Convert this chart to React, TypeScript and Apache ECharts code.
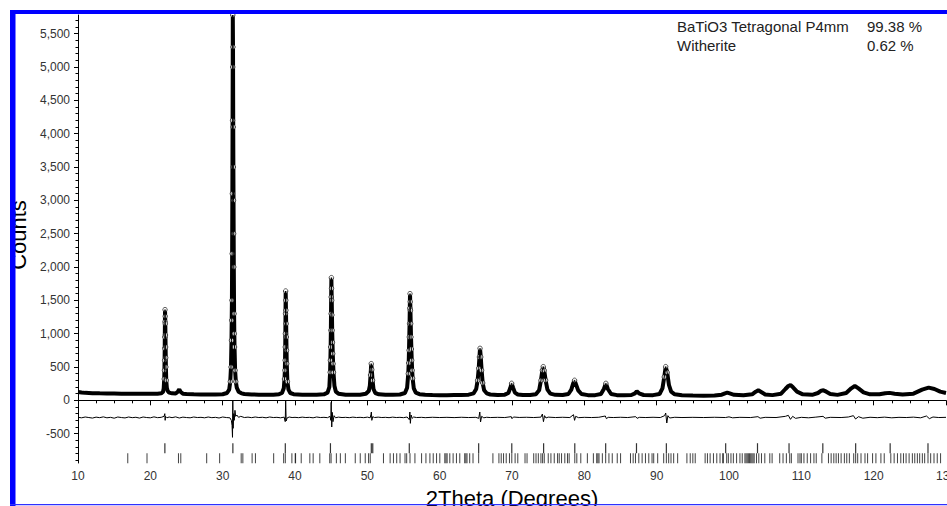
import React, { useEffect, useRef } from "react";
import * as echarts from "echarts";

const FONT = "'Liberation Sans', Arial, sans-serif";

// Observed intensity (2θ, counts)
const observed: number[][] = [
  [10, 125], [10.5, 118], [11, 112], [12, 108], [13, 105], [14, 103], [15, 102], [16, 100], [17, 98], [18, 97], [19, 97], [20, 98], [21, 100], [21.5, 105],
  [21.75, 125], [21.85, 180], [21.92, 320], [21.95, 450], [21.97, 600], [21.99, 780], [22.0, 950], [22.02, 1180], [22.03, 1360], [22.05, 1260], [22.07, 1150], [22.09, 980], [22.11, 800],
  [22.13, 640], [22.15, 500], [22.2, 300], [22.28, 190], [22.4, 140], [22.6, 115],
  [23, 105], [23.5, 102], [23.8, 130], [24.0, 165], [24.2, 125], [24.5, 100], [25, 95], [26, 90], [27, 88], [28, 87], [29, 88], [30, 92], [30.6, 110],
  [30.9, 160], [31.05, 280], [31.15, 500], [31.22, 900], [31.25, 1200], [31.28, 1500], [31.31, 2200], [31.34, 3100], [31.37, 4200], [31.39, 5000], [31.4, 5780], [31.43, 5300],
  [31.46, 4100], [31.48, 3500], [31.5, 3000], [31.52, 2500],
  [31.54, 2000], [31.58, 1300], [31.61, 1000], [31.64, 800], [31.72, 450], [31.82, 280], [31.95, 190], [32.2, 130], [32.6, 105], [33, 95], [34, 88], [35, 85], [36, 84], [37, 85], [37.8, 92],
  [38.2, 110], [38.45, 180], [38.55, 320], [38.6, 450], [38.62, 600], [38.65, 800], [38.67, 1000], [38.69, 1300], [38.71, 1640], [38.73, 1500], [38.75, 1350], [38.78, 1150], [38.8, 950],
  [38.83, 750], [38.86, 550], [38.95, 280], [39.1, 160], [39.35, 110], [39.8, 92],
  [41, 85], [42, 82], [43, 83], [44, 90], [44.5, 115], [44.75, 200], [44.85, 420], [44.89, 600], [44.93, 800], [44.96, 1050], [44.98, 1300], [45.0, 1550], [45.03, 1840], [45.05, 1680],
  [45.08, 1500], [45.11, 1280], [45.14, 1050], [45.18, 870], [45.22, 700], [45.27, 550], [45.32, 420],
  [45.45, 220], [45.65, 130], [46, 100], [47, 85], [48, 82], [49, 84], [49.8, 98], [50.2, 140], [50.35, 220], [50.45, 380], [50.54, 550], [50.62, 460], [50.72, 300], [50.85, 170],
  [51.1, 110], [51.6, 90], [52.5, 82], [53.5, 82], [54.5, 88], [55.2, 110], [55.5, 190], [55.66, 400], [55.72, 560], [55.76, 750], [55.8, 950], [55.84, 1150], [55.87, 1380],
  [55.9, 1600], [55.93, 1480], [55.96, 1350], [56.0, 1150], [56.04, 950], [56.09, 770],
  [56.14, 600], [56.2, 450], [56.26, 330], [56.42, 180], [56.7, 115], [57.2, 92], [58, 84], [59, 80], [60, 78], [61, 78], [62, 79], [63, 80], [64, 85], [64.7, 105], [65.05, 170], [65.25, 300],
  [65.4, 480], [65.5, 650], [65.58, 780], [65.68, 650], [65.8, 450], [65.95, 260], [66.15, 150], [66.5, 105], [67, 88], [68, 80], [69, 85], [69.5, 110], [69.75, 180], [69.95, 255],
  [70.15, 190], [70.4, 115], [70.8, 88], [71.5, 80], [72.5, 80], [73.3, 92], [73.75, 150], [74.0, 300], [74.2, 450], [74.32, 505], [74.45, 450], [74.65, 300], [74.9, 160], [75.3, 100],
  [76, 82], [77, 80], [77.8, 95], [78.2, 160], [78.45, 250], [78.65, 300], [78.85, 240], [79.15, 150], [79.6, 95], [80.5, 78], [81.5, 78], [82.3, 95], [82.7, 170], [82.98, 255],
  [83.25, 170], [83.7, 95], [84.5, 78], [85.5, 75], [86.5, 80], [87.0, 105], [87.25, 135], [87.55, 105], [88.2, 80], [89.5, 78], [90.4, 95], [90.8, 180], [91.05, 350], [91.25, 505],
  [91.45, 420], [91.7, 230], [92.0, 130], [92.5, 90], [93.5, 76], [95, 72], [96.5, 70], [98, 72], [99, 85], [99.45, 105], [99.75, 115], [100.1, 103], [100.7, 82], [102, 75],
  [103.2, 90], [103.7, 130], [104.05, 150], [104.45, 125], [105, 88], [106, 78], [107.2, 100], [107.8, 170], [108.2, 215], [108.5, 230], [108.85, 195], [109.4, 130], [110.2, 90],
  [111.5, 82], [112.3, 110], [112.75, 145], [113.05, 150], [113.45, 130], [114, 95], [115, 82], [116.2, 110], [116.9, 180], [117.4, 215], [117.9, 180], [118.6, 120], [119.5, 90],
  [120.8, 90], [121.6, 105], [122.2, 112], [122.9, 100], [124, 88], [125.5, 100], [126.7, 160], [127.6, 190], [128.4, 170], [129.2, 130], [130, 110],
];

// Difference curve (obs - calc, offset)
const difference: number[][] = [
  [10, -255], [10.5, -262], [11, -250], [11.5, -258], [12, -266], [12.5, -252], [13, -260], [13.5, -248], [14, -262], [14.5, -255], [15, -268], [15.5, -250], [16, -258], [16.5, -264],
  [17, -250], [17.5, -260], [18, -254], [18.5, -266], [19, -250], [19.5, -258], [20, -262], [20.5, -248], [21, -260], [21.5, -255], [21.9, -240], [22.0, -200], [22.05, -300],
  [22.1, -240], [22.3, -262], [22.6, -250], [23, -260], [23.5, -248], [24, -265], [24.5, -252], [25, -258], [25.5, -262], [26, -250], [26.5, -258], [27, -255], [27.5, -262],
  [28, -250], [28.5, -260], [29, -255], [29.5, -265], [30, -250], [30.5, -258], [31.0, -262], [31.2, -300], [31.3, -380], [31.36, -555], [31.4, -10], [31.45, -420], [31.52, -200],
  [31.6, -300], [31.7, -150], [31.8, -240], [31.95, -220], [32.2, -255], [32.5, -240], [33, -258], [33.5, -252], [34, -260], [34.5, -250], [35, -258], [35.5, -254], [36, -262],
  [36.5, -250], [37, -258], [37.5, -255], [38, -262], [38.5, -252], [38.65, -320], [38.71, -5], [38.78, -310], [38.9, -265], [39.2, -250], [39.6, -258], [40, -255], [40.5, -260],
  [41, -252], [41.5, -258], [42, -255], [42.5, -262], [43, -250], [43.5, -258], [44, -255], [44.5, -260], [44.85, -240], [44.95, -300], [45.0, -30], [45.08, -400], [45.15, -180],
  [45.25, -320], [45.4, -230], [45.6, -262], [46, -252], [46.5, -258], [47, -255], [47.5, -260], [48, -252], [48.5, -258], [49, -255], [49.5, -260], [50, -252], [50.4, -262],
  [50.5, -210], [50.56, -175], [50.62, -300], [50.75, -245], [51, -258], [51.5, -252], [52, -258], [52.5, -255], [53, -260], [53.5, -252], [54, -258], [54.5, -255], [55, -260],
  [55.5, -250], [55.8, -290], [55.88, -175], [55.95, -345], [56.05, -220], [56.2, -270], [56.4, -250], [56.8, -258], [57.5, -255], [58, -260], [59, -254], [60, -258], [61, -255],
  [62, -259], [63, -254], [64, -258], [65, -255], [65.4, -270], [65.55, -175], [65.65, -325], [65.8, -240], [66.1, -262], [66.5, -254], [67, -258], [68, -255], [69, -258],
  [69.9, -245], [70.0, -275], [70.2, -250], [71, -257], [72, -254], [73, -258], [74, -252], [74.2, -205], [74.35, -320], [74.5, -230], [74.7, -265], [75, -252], [76, -258],
  [77, -254], [78, -258], [78.5, -215], [78.65, -300], [78.8, -240], [79.2, -260], [80, -255], [81, -258], [82, -254], [82.9, -235], [83.05, -275], [83.3, -255], [84, -258],
  [85, -254], [86, -258], [87.1, -245], [87.3, -270], [87.6, -255], [88.5, -258], [89.5, -254], [90.5, -258], [91.1, -230], [91.25, -190], [91.4, -340], [91.55, -230], [91.8, -265],
  [92.5, -254], [93.5, -258], [95, -255], [96.5, -258], [98, -254], [99.5, -258], [100, -248], [100.5, -262], [101.5, -255], [103, -258], [104, -245], [104.3, -268], [105, -255],
  [106.5, -258], [107.8, -240], [108.2, -225], [108.5, -285], [108.8, -240], [109.2, -270], [110, -255], [111, -262], [112, -252], [113, -240], [113.3, -268], [114, -255],
  [115.5, -258], [116.5, -250], [117.2, -230], [117.5, -280], [117.9, -245], [118.5, -268], [119.5, -254], [120.5, -260], [121.5, -252], [122.5, -262], [123.5, -255], [124.5, -258],
  [125.5, -252], [126.5, -262], [127.3, -235], [127.7, -275], [128.2, -250], [129, -258], [130, -255],
];

// Reflection positions (2θ) of each phase
const batio3Ticks: number[] = [
  22.01, 31.41, 38.66, 44.9, 50.55, 50.75, 55.8, 65.39, 69.97, 74.37, 78.68, 82.95, 87.21, 91.34, 99.54, 103.94, 108.3, 112.97, 117.51, 122.28, 127.51,
];
const witheriteTicks: number[] = [
  16.88, 19.54, 23.89, 24.21, 27.79, 29.58, 32.56, 32.79, 34.07, 34.53, 37.05, 38.43, 38.66, 39.57, 40.03,
  40.08, 40.86, 42.05, 42.51, 43.43, 44.8, 44.99, 45.72, 46.27, 46.96, 48.33, 49.02, 49.71, 50.17, 50.4, 52.23, 53.15, 53.61, 54.06, 54.52,
  55.21, 55.44, 55.9, 56.58, 57.5, 58.1, 58.65, 59.11, 59.57, 60.02, 60.71, 60.87, 61.03, 61.4, 61.86, 62.32, 62.78, 63.46, 63.62, 63.78, 64.15,
  64.61, 65.39, 67.36, 68.19, 68.51, 68.83, 69.2, 69.65, 69.97, 70.43, 70.8, 71.8, 72.08, 73.0, 73.32, 73.64, 74.0, 74.23, 74.46, 75.01,
  75.38, 75.84, 76.3, 76.53, 76.85, 77.3, 77.67, 77.9, 78.68, 78.96, 79.51, 80.42, 81.25, 81.71, 81.87, 82.03, 82.49, 82.95, 83.4, 83.86,
  84.55, 85.01, 86.38, 86.75, 87.07, 87.53, 87.99, 88.45, 88.91, 89.36, 89.59, 90.14, 90.97, 91.34, 91.66, 91.98, 92.35, 92.9, 94.18,
  94.64, 95.0, 95.33, 96.7, 97.02, 97.39, 97.85, 98.31, 98.76, 99.13, 99.22, 99.68, 99.91, 100.27, 100.6, 101.05, 101.51, 101.83, 102.2,
  102.36, 102.52, 102.68, 102.84, 103.0, 103.16, 103.32, 103.48, 103.8, 104.12, 104.49, 104.95, 105.64, 105.96, 107.01, 107.47, 107.93,
  108.39, 108.62, 109.54, 109.81, 110.0, 110.36, 110.82, 111.28, 111.74, 112.06, 112.84, 113.75, 114.12, 114.49, 114.81, 115.13, 115.5,
  115.95, 116.28, 116.64, 117.24, 117.51, 117.79, 118.25, 118.8, 119.16, 119.85, 120.31, 121.0, 121.46, 122.37, 122.83, 123.29, 123.75,
  124.12, 124.48, 124.9, 125.35, 125.68, 126.04, 126.36, 126.73, 127.05, 127.51, 127.88, 128.34, 128.79, 129.25,
];

// Axis ticks
const yMajorTicks: number[] = [-500, 0, 500, 1000, 1500, 2000, 2500, 3000, 3500, 4000, 4500, 5000, 5500];
const yMinorTicks: number[] = [
  -900, -800, -700, -600, -400, -300, -200, -100, 100, 200, 300, 400, 600, 700, 800, 900, 1100, 1200, 1300, 1400, 1600, 1700, 1800, 1900,
  2100, 2200, 2300, 2400, 2600, 2700, 2800, 2900, 3100, 3200, 3300, 3400, 3600, 3700, 3800, 3900, 4100, 4200, 4300, 4400, 4600, 4700, 4800, 4900,
  5100, 5200, 5300, 5400, 5600, 5700,
];

// Phase legend
const phaseNames: string[] = ["BaTiO3 Tetragonal P4mm", "Witherite"];
const phaseWeights: string[] = ["99.38 %", "0.62 %"];

const TICK_ROW_BATIO3 = -718;
const TICK_ROW_WITHERITE = -868;

export default function App() {
  const ref = useRef<HTMLDivElement>(null);
  useEffect(() => {
    if (!ref.current) return;
    const chart = echarts.init(ref.current, null, { renderer: "svg", width: 947, height: 506 });
    const circles = observed.filter((p) => p[1] > 250);
    const legendGraphics: any[] = [];
    phaseNames.forEach((n, i) => {
      legendGraphics.push({
        type: "text", x: 677, y: 26 + i * 19, z: 20,
        style: { text: n, fontSize: 15, fontFamily: FONT, fill: "#222", textVerticalAlign: "middle" },
      });
      legendGraphics.push({
        type: "text", x: 867, y: 26 + i * 19, z: 20,
        style: { text: phaseWeights[i], fontSize: 15, fontFamily: FONT, fill: "#222", textVerticalAlign: "middle" },
      });
    });
    chart.setOption({
      animation: false,
      backgroundColor: "#fff",
      textStyle: { fontFamily: FONT },
      grid: { left: 78, top: 15, width: 868, height: 448, outerBoundsMode: "none", containLabel: false },
      xAxis: {
        type: "value", min: 10, max: 130, interval: 10,
        axisLine: { lineStyle: { color: "#000", width: 1 } },
        axisTick: { length: 5, lineStyle: { color: "#000" } },
        minorTick: { show: true, splitNumber: 4, length: 3, lineStyle: { color: "#000" } },
        splitLine: { show: false },
        axisLabel: { color: "#333", fontSize: 12, fontFamily: FONT, margin: 7 },
        name: "2Theta (Degrees)", nameLocation: "middle", nameGap: 24,
        nameTextStyle: { fontSize: 22, color: "#000", fontFamily: FONT },
      },
      yAxis: [
        {
          type: "value", min: -940, max: 5780,
          axisLine: { show: true, lineStyle: { color: "#000", width: 1 } },
          axisTick: { show: true, customValues: yMajorTicks, length: 4, lineStyle: { color: "#000" } },
          axisLabel: {
            customValues: yMajorTicks, color: "#333", fontSize: 12, fontFamily: FONT, margin: 8,
            formatter: (v: number) => v.toLocaleString("en-US"),
          },
          splitLine: { show: false },
          name: "Counts", nameLocation: "middle", nameRotate: 90, nameGap: 46,
          nameTextStyle: { fontSize: 22, color: "#000", fontFamily: FONT, padding: [0, 0, 0, 8] },
        },
        {
          type: "value", min: -940, max: 5780, position: "left",
          axisLine: { show: false },
          axisTick: { show: true, customValues: yMinorTicks, length: 2.5, lineStyle: { color: "#000" } },
          axisLabel: { show: false },
          splitLine: { show: false },
        },
      ],
      series: [
        {
          name: "Observed", type: "line", data: observed, showSymbol: false, symbol: "none",
          lineStyle: { color: "#000", width: 4 }, z: 2,
        },
        {
          name: "Observed points", type: "scatter", data: circles, symbol: "circle", symbolSize: 4.5,
          itemStyle: { color: "#fff", borderColor: "#000", borderWidth: 0.8 }, z: 3,
        },
        {
          name: "Calculated", type: "line", data: observed, showSymbol: false, symbol: "none",
          lineStyle: { color: "#000", width: 1 }, z: 4,
        },
        {
          name: "Difference", type: "line", data: difference, showSymbol: false, symbol: "none",
          lineStyle: { color: "#000", width: 1 }, z: 4,
        },
        {
          name: "BaTiO3 Tetragonal P4mm", type: "scatter", symbol: "rect", symbolSize: [1.2, 10],
          data: batio3Ticks.map((x) => [x, TICK_ROW_BATIO3]),
          itemStyle: { color: "#000" }, z: 4,
        },
        {
          name: "Witherite", type: "scatter", symbol: "rect", symbolSize: [1, 10],
          data: witheriteTicks.map((x) => [x, TICK_ROW_WITHERITE]),
          itemStyle: { color: "#111" }, z: 4,
        },
      ],
      graphic: [
        ...legendGraphics,
        { type: "rect", z: 50, shape: { x: 10, y: 10, width: 5.5, height: 496 }, style: { fill: "#0000ff" } },
        { type: "rect", z: 50, shape: { x: 10, y: 10, width: 937, height: 4 }, style: { fill: "#0000ff" } },
        { type: "rect", z: 50, shape: { x: 10, y: 504, width: 937, height: 1.2 }, style: { fill: "#3030ff" } },
      ],
    });
    return () => chart.dispose();
  }, []);
  return (
    <div
      ref={ref}
      style={{ position: "absolute", left: 0, top: 0, width: 947, height: 506, background: "#fff" }}
    />
  );
}
